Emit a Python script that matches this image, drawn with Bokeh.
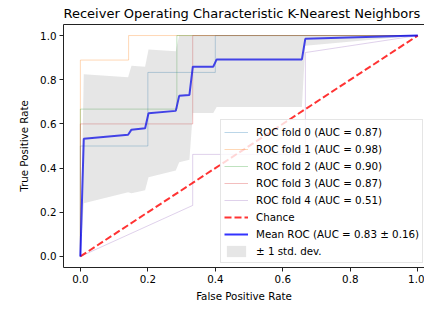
from bokeh.plotting import figure
from bokeh.models import Range1d, FixedTicker, LinearAxis, Legend, LegendItem
from bokeh.embed import file_html
from bokeh.resources import INLINE

# ---- data ----
fold0_fpr = [0.0, 0.0, 0.2, 0.2, 0.4, 0.4, 1.0]
fold0_tpr = [0.0, 0.5, 0.5, 0.833, 0.833, 1.0, 1.0]
fold1_fpr = [0.0, 0.0, 0.143, 0.143, 1.0]
fold1_tpr = [0.0, 0.889, 0.889, 1.0, 1.0]
fold2_fpr = [0.0, 0.0, 0.286, 0.286, 1.0]
fold2_tpr = [0.0, 0.667, 0.667, 1.0, 1.0]
fold3_fpr = [0.0, 0.0, 0.333, 0.333, 1.0]
fold3_tpr = [0.0, 0.6, 0.6, 1.0, 1.0]
fold4_fpr = [0.0, 0.333, 0.333, 0.667, 0.667, 1.0]
fold4_tpr = [0.0, 0.231, 0.462, 0.462, 0.923, 1.0]
fold_labels = ["ROC fold 0 (AUC = 0.87)", "ROC fold 1 (AUC = 0.98)",
               "ROC fold 2 (AUC = 0.90)", "ROC fold 3 (AUC = 0.87)",
               "ROC fold 4 (AUC = 0.51)"]

chance_x = [0.0, 1.0]
chance_y = [0.0, 1.0]

mean_fpr = [0.0, 0.0101, 0.1414, 0.1515, 0.1919, 0.2020, 0.2828, 0.2929,
            0.3232, 0.3333, 0.3939, 0.4040, 0.6566, 0.6667, 1.0]
mean_tpr = [0.0, 0.533, 0.551, 0.574, 0.580, 0.648, 0.659, 0.727,
            0.731, 0.859, 0.859, 0.892, 0.892, 0.985, 1.0]
band_lower = [0.0, 0.241, 0.291, 0.286, 0.300, 0.359, 0.389, 0.427,
              0.438, 0.649, 0.649, 0.676, 0.676, 0.954, 1.0]
band_upper = [0.0, 0.825, 0.811, 0.863, 0.859, 0.937, 0.929, 1.0,
              1.0, 1.0, 1.0, 1.0, 1.0, 1.0, 1.0]

ticks = [0.0, 0.2, 0.4, 0.6, 0.8, 1.0]
tick_labels = ["0.0", "0.2", "0.4", "0.6", "0.8", "1.0"]

FONT = "DejaVu Sans"

p = figure(width=424, height=304, output_backend="svg", toolbar_location=None,
           x_range=Range1d(-0.05, 1.02), y_range=Range1d(-0.05, 1.05),
           min_border_left=63, min_border_right=0, min_border_bottom=36,
           min_border_top=0)
p.outline_line_color = None
p.xgrid.visible = False
p.ygrid.visible = False

p.title.text = "Receiver Operating Characteristic K-Nearest Neighbors"
p.title.align = "left"
p.title.text_font = FONT
p.title.text_font_size = "13px"
p.title.text_font_style = "normal"
p.title.text_color = "black"
p.title.standoff = 7

overrides = {t: l for t, l in zip(ticks, tick_labels)}
for ax in (p.xaxis[0], p.yaxis[0]):
    ax.ticker = FixedTicker(ticks=ticks)
    ax.major_label_overrides = overrides
    ax.major_label_text_font = FONT
    ax.major_label_text_font_size = "10.3px"
    ax.major_label_text_color = "black"
    ax.axis_label_text_font = FONT
    ax.axis_label_text_font_size = "10.3px"
    ax.axis_label_text_font_style = "normal"
    ax.axis_label_text_color = "black"
    ax.axis_line_color = "#222222"
    ax.major_tick_line_color = "#222222"
    ax.minor_tick_line_color = None
    ax.major_tick_in = 0
    ax.major_tick_out = 4
    ax.major_label_standoff = 3
p.xaxis.axis_label = "False Positive Rate"
p.yaxis.axis_label = "True Positive Rate"
p.xaxis.axis_label_standoff = 4
p.yaxis.axis_label_standoff = 7

top = LinearAxis(ticker=FixedTicker(ticks=[]), axis_line_color="#222222",
                 major_tick_line_color=None, minor_tick_line_color=None,
                 major_label_text_font_size="0px")
p.add_layout(top, "above")

colors = ["#1f77b4", "#ff7f0e", "#2ca02c", "#d62728", "#9467bd"]
folds = [(fold0_fpr, fold0_tpr), (fold1_fpr, fold1_tpr), (fold2_fpr, fold2_tpr),
         (fold3_fpr, fold3_tpr), (fold4_fpr, fold4_tpr)]
items = []
for (fx, fy), c, lab in zip(folds, colors, fold_labels):
    r = p.line(fx, fy, line_color=c, line_alpha=0.3, line_width=1)
    items.append(LegendItem(label=lab, renderers=[r]))

rc = p.line(chance_x, chance_y, line_color="#ff0000", line_alpha=0.8,
            line_width=2, line_dash="7 3")
items.append(LegendItem(label="Chance", renderers=[rc]))
rm = p.line(mean_fpr, mean_tpr, line_color="#0000ff", line_alpha=0.8, line_width=2)
items.append(LegendItem(label="Mean ROC (AUC = 0.83 \u00b1 0.16)", renderers=[rm]))
rb = p.varea(x=mean_fpr, y1=band_lower, y2=band_upper, fill_color="#808080",
             fill_alpha=0.2)
items.append(LegendItem(label="\u00b1 1 std. dev.", renderers=[rb]))

legend = Legend(items=items, location=(157, 4), label_text_font=FONT,
                label_text_font_size="10.3px", label_text_color="black",
                label_height=17, glyph_height=14, glyph_width=24,
                label_standoff=8, spacing=0, padding=3, margin=0,
                border_line_color="#cccccc", border_line_width=1,
                background_fill_color="white", background_fill_alpha=0.8)
p.add_layout(legend)

open("out.html", "w").write(file_html(p, INLINE))
